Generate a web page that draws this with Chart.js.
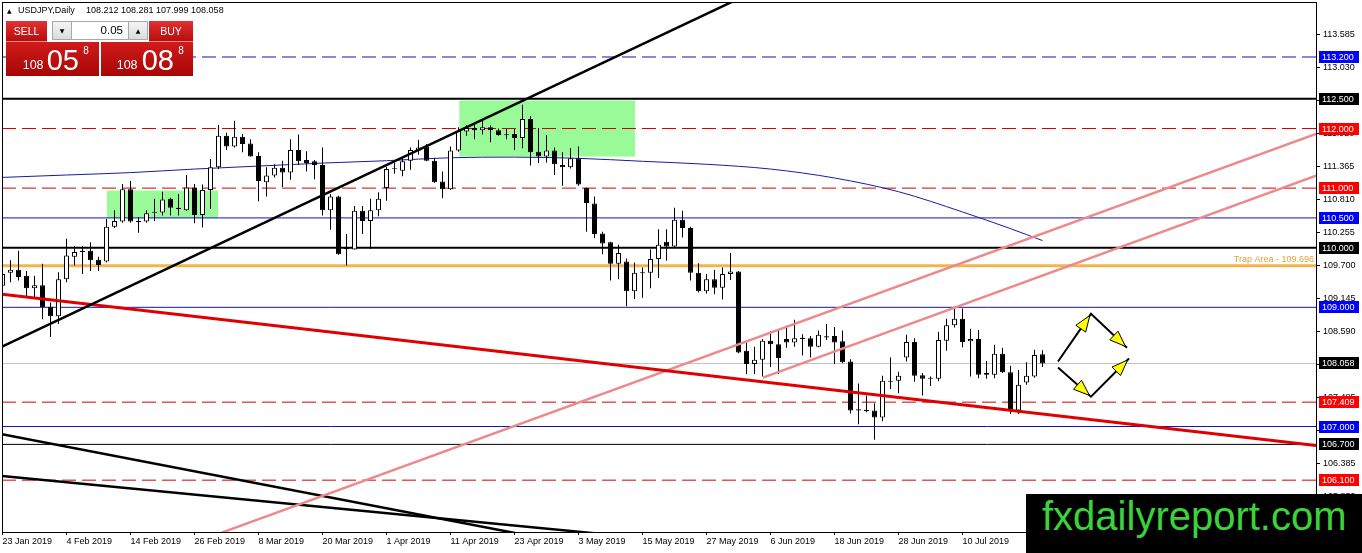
<!DOCTYPE html>
<html><head><meta charset="utf-8">
<script src="https://cdn.jsdelivr.net/npm/chart.js"></script>
<style>
html,body{margin:0;padding:0;background:#fff;}
#wrap{position:relative;width:1362px;height:553px;overflow:hidden;background:#fff;}
#c{position:absolute;left:0;top:0;}
.t{position:absolute;font-family:"Liberation Sans",Arial,sans-serif;white-space:nowrap;}
.red{position:absolute;background:linear-gradient(to bottom,#e23232,#b80c0c);color:#fff;font-family:"Liberation Sans",Arial,sans-serif;}
.gray{position:absolute;background:linear-gradient(to bottom,#f4f4f4,#dcdcdc);border:1px solid #a8a8a8;box-sizing:border-box;font-family:"DejaVu Sans",sans-serif;font-size:6px;color:#000;display:flex;align-items:center;justify-content:center;}
.cen{display:flex;align-items:center;justify-content:center;font-size:10.5px;}
#wm{position:absolute;left:1026px;top:494px;width:336px;height:59px;background:#000;}
</style></head><body>
<div id="wrap">
<canvas id="c" width="1362" height="553"></canvas>
<div class="t" style="left:7px;top:7px;font-size:6px;line-height:8px;font-family:'DejaVu Sans',sans-serif;color:#000">▲</div>
<div class="t" style="left:18px;top:5px;font-size:9px;line-height:11px;color:#000">USDJPY,Daily</div>
<div class="t" style="left:86px;top:5px;font-size:9px;line-height:11px;color:#000">108.212 108.281 107.999 108.058</div>

<div class="red cen" style="left:6px;top:21px;width:41px;height:21px;border-bottom:1px solid #e88a8a;box-sizing:border-box;">SELL</div>
<div class="gray" style="left:52px;top:21px;width:20px;height:19px;">▼</div>
<div class="t" style="left:72px;top:21px;width:56px;height:19px;background:#fff;border-top:1px solid #a8a8a8;border-bottom:1px solid #a8a8a8;box-sizing:border-box;font-size:11.5px;line-height:17px;text-align:right;padding-right:5px;color:#000">0.05</div>
<div class="gray" style="left:128px;top:21px;width:20px;height:19px;">▲</div>
<div class="red cen" style="left:149px;top:21px;width:44px;height:21px;border-bottom:1px solid #e88a8a;box-sizing:border-box;">BUY</div>
<div class="red" style="left:6px;top:42px;width:93px;height:34px;background:linear-gradient(to bottom,#d01a1a,#a80606);"></div>
<div class="red" style="left:101px;top:42px;width:92px;height:34px;background:linear-gradient(to bottom,#d01a1a,#a80606);"></div>
<div class="t" style="left:22.7px;top:59.4px;font-size:12.5px;line-height:12.5px;color:#fff">108</div>
<div class="t" style="left:46.7px;top:45.5px;font-size:29px;line-height:29px;color:#fff">05</div>
<div class="t" style="left:83.3px;top:45.5px;font-size:10px;line-height:10px;color:#fff">8</div>
<div class="t" style="left:116.7px;top:59.4px;font-size:12.5px;line-height:12.5px;color:#fff">108</div>
<div class="t" style="left:141.7px;top:45.5px;font-size:29px;line-height:29px;color:#fff">08</div>
<div class="t" style="left:178.3px;top:45.5px;font-size:10px;line-height:10px;color:#fff">8</div>

<div id="wm"><span class="t" style="left:16px;top:2px;font-size:40px;line-height:40px;color:#3ad43a">fxdailyreport.com</span></div>
</div>
<script>
// ---------- data ----------
const dateLabels = ["23 Jan 2019","4 Feb 2019","14 Feb 2019","26 Feb 2019","8 Mar 2019","20 Mar 2019","1 Apr 2019","11 Apr 2019","23 Apr 2019","3 May 2019","15 May 2019","27 May 2019","6 Jun 2019","18 Jun 2019","28 Jun 2019","10 Jul 2019","22 Jul 2019"];
const labelBars = [0,8,16,24,32,40,48,56,64,72,80,88,96,104,112,120,128];
const yTickValues = [113.585,113.030,112.475,111.920,111.365,110.810,110.255,109.700,109.145,108.590,108.035,107.485,106.940,106.385,105.830];

const open = [109.36,109.58,109.63,109.53,109.32,109.37,109.01,108.85,109.47,109.85,109.95,109.95,109.80,109.77,110.35,110.44,110.98,110.44,110.44,110.59,110.59,110.82,110.66,110.63,111.01,110.55,110.97,111.35,111.88,111.70,111.86,111.75,111.54,111.10,111.21,111.34,111.26,111.64,111.47,111.45,111.39,110.63,110.86,109.98,109.97,110.62,110.45,110.63,111.00,111.32,111.29,111.46,111.63,111.70,111.46,111.11,110.98,111.63,111.95,112.01,111.97,112.02,111.97,111.90,111.91,111.84,112.16,111.61,111.53,111.63,111.39,111.35,111.50,111.00,110.74,110.24,110.09,109.73,109.77,109.27,109.58,109.58,109.81,110.10,110.02,110.47,110.33,109.58,109.27,109.47,109.33,109.56,109.60,108.27,108.05,108.12,108.44,108.38,108.47,108.41,108.48,108.48,108.34,108.51,108.52,108.43,108.09,107.28,107.27,107.27,107.15,107.76,107.77,108.16,108.42,107.86,107.81,107.80,108.44,108.70,108.81,108.43,108.47,107.90,107.87,108.22,107.91,107.27,107.74,107.84,108.212];
const high = [109.68,109.79,109.95,109.61,109.53,109.73,109.08,109.59,110.15,110.03,110.03,110.09,109.85,110.48,110.63,111.07,111.12,110.51,110.63,110.82,110.94,110.84,110.90,111.22,111.07,111.06,111.49,112.06,111.93,112.13,111.91,111.82,111.60,111.35,111.40,111.46,111.82,111.90,111.62,111.47,111.68,110.90,110.87,110.23,110.70,110.70,110.82,110.93,111.36,111.43,111.52,111.68,111.81,111.74,111.51,111.28,111.70,112.02,112.06,112.08,112.13,112.05,112.00,111.99,111.99,112.40,112.21,112.01,111.89,111.68,111.60,111.67,111.70,111.01,110.86,110.27,110.10,110.05,109.82,109.75,109.67,109.97,110.31,110.31,110.67,110.62,110.35,109.74,109.56,109.63,109.67,109.91,109.61,108.41,108.34,108.47,108.60,108.61,108.69,108.79,108.55,108.52,108.61,108.72,108.67,108.61,108.13,107.72,107.52,107.39,107.85,108.16,107.92,108.54,108.48,107.90,107.84,108.59,108.81,108.97,108.98,108.64,108.62,108.10,108.37,108.32,108.02,107.95,108.08,108.29,108.281];
const low = [109.28,109.42,109.45,109.17,109.16,108.80,108.50,108.72,109.42,109.70,109.56,109.61,109.61,109.75,110.33,110.42,110.42,110.25,110.42,110.45,110.54,110.54,110.54,110.62,110.41,110.34,110.65,111.32,111.64,111.68,111.60,111.53,110.78,110.86,111.18,111.02,111.14,111.39,111.28,111.15,110.54,110.30,109.88,109.70,109.97,110.23,109.98,110.53,110.79,111.24,111.20,111.31,111.56,111.45,111.09,110.83,110.97,111.61,111.88,111.82,111.90,111.77,111.88,111.82,111.64,111.67,111.38,111.42,111.43,111.22,111.04,111.33,111.04,110.27,110.16,109.89,109.45,109.47,109.02,109.14,109.16,109.32,109.49,109.78,110.01,110.17,109.45,109.25,109.23,109.22,109.13,109.46,108.23,107.88,107.88,107.84,108.00,107.88,108.32,108.34,108.19,108.16,108.33,108.45,108.05,108.06,107.22,107.04,107.24,106.78,107.09,107.63,107.56,108.09,107.75,107.52,107.68,107.76,108.27,108.66,108.33,107.84,107.81,107.80,107.81,107.90,107.21,107.21,107.70,107.82,107.999];
const close = [109.56,109.63,109.51,109.32,109.37,109.00,108.85,109.47,109.87,109.93,109.93,109.79,109.71,110.35,110.45,110.98,110.44,110.44,110.58,110.60,110.81,110.67,110.66,111.01,110.55,110.97,111.35,111.88,111.70,111.86,111.74,111.53,111.12,111.21,111.34,111.26,111.64,111.45,111.42,111.39,110.63,110.86,109.89,109.99,110.62,110.45,110.63,110.82,111.32,111.33,111.45,111.64,111.68,111.46,111.10,110.98,111.63,111.96,112.01,111.97,112.02,111.97,111.89,111.89,111.84,112.16,111.60,111.53,111.63,111.40,111.35,111.50,111.06,110.75,110.23,110.07,109.73,109.91,109.27,109.58,109.58,109.81,110.05,110.02,110.47,110.33,109.58,109.27,109.47,109.33,109.56,109.60,108.24,108.05,108.12,108.44,108.38,108.15,108.41,108.48,108.48,108.34,108.54,108.50,108.41,108.08,107.27,107.28,107.27,107.15,107.77,107.76,107.85,108.42,107.85,107.80,107.81,108.45,108.70,108.81,108.42,108.47,107.87,107.87,108.22,107.91,107.27,107.70,107.85,108.20,108.058];

const maBars = [0,8,16,24,32,40,48,56,64,72,80,88,96,104,112,120,126,130];
const maValues = [111.18,111.22,111.26,111.32,111.37,111.42,111.46,111.51,111.52,111.50,111.45,111.40,111.32,111.17,110.94,110.60,110.32,110.12];

const levels = [113.200,112.500,112.000,111.000,110.500,110.000,109.696,109.000,108.058,107.409,107.000,106.700,106.100];
const trapText = "Trap Area - 109.696";

const blackUpLine = [[-0.0625,108.34],[124.7,116.25]];
const redLine = [[-0.0625,109.22],[164.19,106.68]];
const pinkLine1 = [[27.4,105.22],[164.19,111.91]];
const pinkLine2 = [[95.06,107.82],[164.19,111.21]];
const blackDownA = [[-0.0625,106.87],[80.06,104.80]];
const blackDownB = [[-0.0625,106.17],[80.06,105.13]];
const arrowUp = [[131.94,108.09],[136.06,108.89],[140.56,108.32]];
const arrowDown = [[131.94,107.99],[136.06,107.50],[140.81,108.14]];
const zoneA = [13.06,26.94,110.96,110.50];
const zoneB = [57.1,79.06,112.47,111.53];

// ---------- styles ----------
const BLUE='#1414b4', RED='#d00000', BLK='#000000';
const levelStyle = [
  {c:BLUE,w:1,d:[14,6],lab:'#0000ff'},
  {c:BLK,w:2,d:[],lab:'#000'},
  {c:RED,w:1,d:[14,6],lab:'#ff0000'},
  {c:RED,w:1,d:[14,6],lab:'#ff0000'},
  {c:BLUE,w:1,d:[],lab:'#0000ff'},
  {c:BLK,w:2,d:[],lab:'#000'},
  {c:'#f2b54a',w:3,d:[],lab:null},
  {c:BLUE,w:1,d:[],lab:'#0000ff'},
  {c:'#c0c0c0',w:1,d:[],lab:'#000'},
  {c:RED,w:1,d:[14,6],lab:'#ff0000'},
  {c:BLUE,w:1,d:[],lab:'#0000ff'},
  {c:BLK,w:1,d:[],lab:'#000'},
  {c:RED,w:1,d:[14,6],lab:'#ff0000'}
];
const xMin=-0.0625, xMax=164.1875, yMin=105.2302, yMax=114.1228;
const FONT={family:'"Liberation Sans", Arial, sans-serif', size:9};

const pts = arr => arr.map(p=>({x:p[0],y:p[1]}));
const datasets = [];
levels.forEach((v,i)=>{
  const s=levelStyle[i];
  datasets.push({type:'line',data:[{x:xMin,y:v},{x:xMax,y:v}],borderColor:s.c,borderWidth:s.w,borderDash:s.d,pointRadius:0,order:60});
});
datasets.push({type:'line',data:maBars.map((b,i)=>({x:b,y:maValues[i]})),borderColor:'#1a1aa0',borderWidth:1,pointRadius:0,cubicInterpolationMode:'monotone',order:50});
datasets.push({type:'bar',data:open.map((o,i)=>({x:i,y:[low[i],high[i]]})),backgroundColor:'#000',borderWidth:0,barThickness:1,grouped:false,inflateAmount:0,order:40});
datasets.push({type:'bar',data:open.map((o,i)=>{let a=Math.min(o,close[i]),b=Math.max(o,close[i]);if(b-a<0.02){const m=(a+b)/2;a=m-0.01;b=m+0.01;}return {x:i,y:[a,b]};}),
  backgroundColor:open.map((o,i)=>close[i]>o?'#ffffff':'#000000'),borderColor:'#000',borderWidth:1,borderSkipped:false,barThickness:5,grouped:false,inflateAmount:0,order:30});
[[blackUpLine,'#000',2.5],[redLine,'#e00000',3],[pinkLine1,'#ec8a8a',2.5],[pinkLine2,'#ec8a8a',2.5],[blackDownA,'#000',2.5],[blackDownB,'#000',2.5]].forEach(t=>{
  datasets.push({type:'line',data:pts(t[0]),borderColor:t[1],borderWidth:t[2],pointRadius:0,order:20});
});
[arrowUp,arrowDown].forEach(a=>{
  datasets.push({type:'line',data:pts(a),borderColor:'#000',borderWidth:2,pointRadius:0,order:10});
});

const decor = {
  id:'decor',
  beforeDatasetsDraw(chart){
    const {ctx,scales:{x,y}}=chart;
    ctx.save();ctx.fillStyle='#98fb98';
    [zoneA,zoneB].forEach(z=>{
      const x0=x.getPixelForValue(z[0]),x1=x.getPixelForValue(z[1]),y0=y.getPixelForValue(z[2]),y1=y.getPixelForValue(z[3]);
      ctx.fillRect(x0,y0,x1-x0,y1-y0);
    });
    ctx.restore();
  },
  afterDatasetsDraw(chart){
    const {ctx,scales:{x,y}}=chart;
    ctx.save();
    [arrowUp,arrowDown].forEach(a=>{
      for(let i=1;i<a.length;i++){
        const x0=x.getPixelForValue(a[i-1][0]),y0=y.getPixelForValue(a[i-1][1]);
        const x1=x.getPixelForValue(a[i][0]),y1=y.getPixelForValue(a[i][1]);
        const len=Math.hypot(x1-x0,y1-y0),dx=(x1-x0)/len,dy=(y1-y0)/len;
        const tx=x1-dx*2,ty=y1-dy*2,L=16,W=6;
        const bx=tx-dx*L,by=ty-dy*L;
        ctx.beginPath();ctx.moveTo(tx,ty);ctx.lineTo(bx-dy*W,by+dx*W);ctx.lineTo(bx+dy*W,by-dx*W);ctx.closePath();
        ctx.fillStyle='#ffff00';ctx.fill();ctx.strokeStyle='#000';ctx.lineWidth=1;ctx.stroke();
      }
    });
    ctx.restore();
  },
  afterDraw(chart){
    const {ctx,chartArea:a,scales:{y}}=chart;
    ctx.save();
    ctx.strokeStyle='#000';ctx.lineWidth=1;
    ctx.strokeRect(a.left+0.5,a.top+0.5,a.right-a.left,a.bottom-a.top);
    ctx.font='9px "Liberation Sans", Arial, sans-serif';
    ctx.textBaseline='middle';ctx.textAlign='left';
    levels.forEach((v,i)=>{
      const s=levelStyle[i]; if(!s.lab) return;
      const yy=Math.round(y.getPixelForValue(v));
      ctx.fillStyle=s.lab;ctx.fillRect(a.right+3,yy-6,40,12);
      ctx.fillStyle='#fff';ctx.fillText(v.toFixed(3),a.right+6,yy+0.5);
    });
    ctx.textAlign='right';ctx.textBaseline='alphabetic';ctx.fillStyle='#e6a23c';
    ctx.fillText(trapText,a.right-2,y.getPixelForValue(levels[6])-4);
    ctx.restore();
  }
};

new Chart(document.getElementById('c'),{
  type:'bar',
  data:{datasets},
  options:{
    responsive:false,animation:false,devicePixelRatio:1,events:[],
    layout:{padding:{left:2,top:2,right:0,bottom:0}},
    plugins:{legend:{display:false},tooltip:{enabled:false}},
    scales:{
      x:{type:'linear',min:xMin,max:xMax,offset:false,
        afterBuildTicks:ax=>{ax.ticks=labelBars.map(v=>({value:v}));},
        afterFit:ax=>{ax.height=21;ax.paddingLeft=0;ax.paddingRight=0;},
        ticks:{callback:v=>dateLabels[labelBars.indexOf(v)],align:'start',maxRotation:0,minRotation:0,autoSkip:false,font:FONT,color:'#000',padding:1},
        grid:{drawOnChartArea:false,tickLength:3,color:'#000',offset:false},
        border:{display:false}},
      y:{type:'linear',position:'right',min:yMin,max:yMax,
        afterBuildTicks:ax=>{ax.ticks=yTickValues.map(v=>({value:v}));},
        afterFit:ax=>{ax.width=46;ax.paddingTop=0;ax.paddingBottom=0;},
        ticks:{callback:v=>Number(v).toFixed(3),font:FONT,color:'#000',padding:3,autoSkip:false},
        grid:{drawOnChartArea:false,tickLength:4,color:'#000'},
        border:{display:false}}
    }
  },
  plugins:[decor]
});
</script>
</body></html>
